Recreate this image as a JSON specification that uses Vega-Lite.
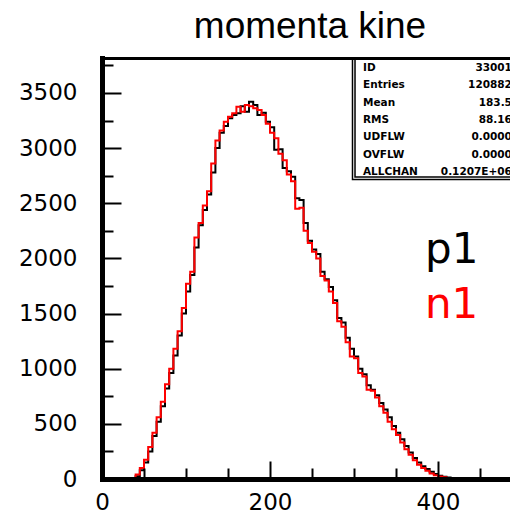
{
  "$schema": "https://vega.github.io/schema/vega-lite/v6.json",
  "width": 408,
  "height": 421,
  "autosize": {"type": "none"},
  "padding": {"left": 102, "top": 58, "right": 0, "bottom": 33},
  "background": "white",
  "config": {"view": {"stroke": null}, "axis": {"grid": false}},
  "title": {"text": "momenta kine", "font": "Liberation Sans", "fontSize": 37, "fontWeight": "normal", "color": "black", "anchor": "middle", "baseline": "alphabetic", "offset": -17, "dx": 4},
  "datasets": {
    "hist": [
      {"m": 0, "p1": 0, "n1": 0}, {"m": 5, "p1": 0, "n1": 0}, {"m": 10, "p1": 0, "n1": 0}, {"m": 15, "p1": 0, "n1": 0},
      {"m": 20, "p1": 0, "n1": 0}, {"m": 25, "p1": 0, "n1": 0}, {"m": 30, "p1": 0, "n1": 0}, {"m": 35, "p1": 3, "n1": 8},
      {"m": 40, "p1": 25, "n1": 40}, {"m": 45, "p1": 80, "n1": 100}, {"m": 50, "p1": 150, "n1": 175}, {"m": 55, "p1": 250, "n1": 290},
      {"m": 60, "p1": 390, "n1": 420}, {"m": 65, "p1": 520, "n1": 560}, {"m": 70, "p1": 660, "n1": 700}, {"m": 75, "p1": 820, "n1": 860},
      {"m": 80, "p1": 960, "n1": 1000}, {"m": 85, "p1": 1120, "n1": 1180}, {"m": 90, "p1": 1300, "n1": 1340}, {"m": 95, "p1": 1500, "n1": 1550},
      {"m": 100, "p1": 1700, "n1": 1770}, {"m": 105, "p1": 1850, "n1": 1880}, {"m": 110, "p1": 2100, "n1": 2190}, {"m": 115, "p1": 2300, "n1": 2320},
      {"m": 120, "p1": 2440, "n1": 2480}, {"m": 125, "p1": 2580, "n1": 2610}, {"m": 130, "p1": 2780, "n1": 2860}, {"m": 135, "p1": 3000, "n1": 3070},
      {"m": 140, "p1": 3140, "n1": 3160}, {"m": 145, "p1": 3200, "n1": 3240}, {"m": 150, "p1": 3270, "n1": 3285}, {"m": 155, "p1": 3300, "n1": 3315},
      {"m": 160, "p1": 3315, "n1": 3375}, {"m": 165, "p1": 3380, "n1": 3330}, {"m": 170, "p1": 3330, "n1": 3391}, {"m": 175, "p1": 3420, "n1": 3380},
      {"m": 180, "p1": 3390, "n1": 3361}, {"m": 185, "p1": 3300, "n1": 3345}, {"m": 190, "p1": 3320, "n1": 3300}, {"m": 195, "p1": 3240, "n1": 3220},
      {"m": 200, "p1": 3190, "n1": 3140}, {"m": 205, "p1": 2985, "n1": 3090}, {"m": 210, "p1": 2990, "n1": 2950}, {"m": 215, "p1": 2820, "n1": 2890},
      {"m": 220, "p1": 2790, "n1": 2760}, {"m": 225, "p1": 2740, "n1": 2700}, {"m": 230, "p1": 2545, "n1": 2450}, {"m": 235, "p1": 2530, "n1": 2460},
      {"m": 240, "p1": 2320, "n1": 2250}, {"m": 245, "p1": 2160, "n1": 2140}, {"m": 250, "p1": 2080, "n1": 2060}, {"m": 255, "p1": 2040, "n1": 2000},
      {"m": 260, "p1": 1880, "n1": 1840}, {"m": 265, "p1": 1810, "n1": 1800}, {"m": 270, "p1": 1740, "n1": 1700}, {"m": 275, "p1": 1620, "n1": 1595},
      {"m": 280, "p1": 1460, "n1": 1430}, {"m": 285, "p1": 1420, "n1": 1380}, {"m": 290, "p1": 1280, "n1": 1240}, {"m": 295, "p1": 1180, "n1": 1110},
      {"m": 300, "p1": 1110, "n1": 1095}, {"m": 305, "p1": 1000, "n1": 960}, {"m": 310, "p1": 950, "n1": 930}, {"m": 315, "p1": 850, "n1": 810},
      {"m": 320, "p1": 810, "n1": 800}, {"m": 325, "p1": 760, "n1": 740}, {"m": 330, "p1": 690, "n1": 660}, {"m": 335, "p1": 630, "n1": 600},
      {"m": 340, "p1": 560, "n1": 520}, {"m": 345, "p1": 480, "n1": 450}, {"m": 350, "p1": 420, "n1": 400}, {"m": 355, "p1": 360, "n1": 330},
      {"m": 360, "p1": 300, "n1": 270}, {"m": 365, "p1": 240, "n1": 220}, {"m": 370, "p1": 190, "n1": 170}, {"m": 375, "p1": 150, "n1": 130},
      {"m": 380, "p1": 115, "n1": 100}, {"m": 385, "p1": 90, "n1": 75}, {"m": 390, "p1": 65, "n1": 50}, {"m": 395, "p1": 45, "n1": 35},
      {"m": 400, "p1": 30, "n1": 22}, {"m": 405, "p1": 20, "n1": 15}, {"m": 410, "p1": 14, "n1": 10}, {"m": 415, "p1": 10, "n1": 7},
      {"m": 420, "p1": 7, "n1": 5}, {"m": 425, "p1": 6, "n1": 5}, {"m": 430, "p1": 4, "n1": 4}, {"m": 435, "p1": 4, "n1": 3},
      {"m": 440, "p1": 3, "n1": 3}, {"m": 445, "p1": 2, "n1": 2}, {"m": 450, "p1": 2, "n1": 2}, {"m": 455, "p1": 1, "n1": 1},
      {"m": 460, "p1": 1, "n1": 1}, {"m": 465, "p1": 1, "n1": 1}, {"m": 470, "p1": 0, "n1": 1}, {"m": 475, "p1": 1, "n1": 0},
      {"m": 480, "p1": 0, "n1": 1}, {"m": 485, "p1": 0, "n1": 0}, {"m": 490, "p1": 0, "n1": 0}, {"m": 495, "p1": 0, "n1": 0},
      {"m": 500, "p1": 0, "n1": 0}
    ],
    "stats": [
      {"names": ["ID", "Entries", "Mean", "RMS", "UDFLW", "OVFLW", "ALLCHAN"],
       "values": ["33001", "120882", "183.5", "88.16", "0.0000", "0.0000", "0.1207E+06"]}
    ]
  },
  "resolve": {"axis": {"x": "independent", "y": "independent"}},
  "layer": [
    {
      "data": {"name": "hist"},
      "mark": {"type": "line", "interpolate": "step-after", "color": "black", "strokeWidth": 2, "clip": true},
      "encoding": {
        "x": {"field": "m", "type": "quantitative", "scale": {"domain": [0, 485.7], "nice": false, "zero": false},
          "axis": {"orient": "bottom", "values": [0, 200, 400], "format": "d", "title": null, "domainWidth": 5, "domainColor": "black", "domainCap": "square",
            "tickColor": "black", "tickWidth": 2, "tickSize": -18, "labelFont": "DejaVu Sans", "labelFontSize": 23, "labelColor": "black",
            "labelPadding": 30, "labelFlush": false, "labelOverlap": false, "zindex": 1}},
        "y": {"field": "p1", "type": "quantitative", "scale": {"domain": [0, 3817], "nice": false, "zero": false},
          "axis": {"orient": "left", "values": [0, 500, 1000, 1500, 2000, 2500, 3000, 3500], "format": "d", "title": null, "domainWidth": 5, "domainColor": "black", "domainCap": "square",
            "tickColor": "black", "tickWidth": 2, "tickSize": -19, "labelFont": "DejaVu Sans", "labelFontSize": 23, "labelColor": "black",
            "labelPadding": 44, "labelFlush": false, "labelOverlap": false, "zindex": 1}}
      }
    },
    {
      "data": {"name": "hist"},
      "mark": {"type": "line", "interpolate": "step-after", "color": "#ff0000", "strokeWidth": 2, "clip": true},
      "encoding": {
        "x": {"field": "m", "type": "quantitative", "scale": {"domain": [0, 485.7], "nice": false, "zero": false},
          "axis": {"orient": "bottom", "values": [50, 100, 150, 250, 300, 350, 450], "title": null, "domain": false, "labels": false,
            "tickColor": "black", "tickWidth": 2, "tickSize": -11, "zindex": 1}},
        "y": {"field": "n1", "type": "quantitative", "scale": {"domain": [0, 3817], "nice": false, "zero": false},
          "axis": {"orient": "left", "values": [250, 750, 1250, 1750, 2250, 2750, 3250, 3750], "title": null, "domain": false, "labels": false,
            "tickColor": "black", "tickWidth": 2, "tickSize": -11, "zindex": 1}}
      }
    },
    {
      "data": {"name": "stats"},
      "mark": {"type": "rect", "fill": "white", "stroke": "black", "strokeWidth": 1.5, "clip": true},
      "encoding": {
        "x": {"datum": 298.2, "type": "quantitative", "scale": {"domain": [0, 485.7], "nice": false, "zero": false},
          "axis": {"orient": "top", "title": null, "domain": true, "domainWidth": 3, "domainColor": "black", "ticks": false, "labels": false, "zindex": 1}},
        "x2": {"datum": 500},
        "y": {"datum": 2715, "type": "quantitative", "scale": {"domain": [0, 3817], "nice": false, "zero": false}, "axis": null},
        "y2": {"datum": 3817}
      }
    },
    {
      "data": {"name": "stats"},
      "mark": {"type": "rect", "fill": "white", "stroke": "black", "strokeWidth": 1.5, "clip": true},
      "encoding": {
        "x": {"datum": 301.2, "type": "quantitative", "scale": {"domain": [0, 485.7], "nice": false, "zero": false}, "axis": null},
        "x2": {"datum": 500},
        "y": {"datum": 2738, "type": "quantitative", "scale": {"domain": [0, 3817], "nice": false, "zero": false}, "axis": null},
        "y2": {"datum": 3817}
      }
    },
    {
      "data": {"name": "stats"},
      "mark": {"type": "text", "align": "left", "baseline": "alphabetic", "font": "DejaVu Sans", "fontWeight": "bold", "fontSize": 10.5, "lineHeight": 17.3, "color": "black"},
      "encoding": {
        "x": {"datum": 310.7, "type": "quantitative", "scale": {"domain": [0, 485.7], "nice": false, "zero": false}, "axis": null},
        "y": {"datum": 3699, "type": "quantitative", "scale": {"domain": [0, 3817], "nice": false, "zero": false}, "axis": null},
        "text": {"field": "names"}
      }
    },
    {
      "data": {"name": "stats"},
      "mark": {"type": "text", "align": "right", "baseline": "alphabetic", "font": "DejaVu Sans", "fontWeight": "bold", "fontSize": 10.5, "lineHeight": 17.3, "color": "black"},
      "encoding": {
        "x": {"datum": 488, "type": "quantitative", "scale": {"domain": [0, 485.7], "nice": false, "zero": false}, "axis": null},
        "y": {"datum": 3699, "type": "quantitative", "scale": {"domain": [0, 3817], "nice": false, "zero": false}, "axis": null},
        "text": {"field": "values"}
      }
    },
    {
      "data": {"values": [{"label": "p1"}]},
      "mark": {"type": "text", "align": "left", "baseline": "alphabetic", "font": "DejaVu Sans", "fontSize": 42, "color": "black"},
      "encoding": {
        "x": {"datum": 384.5, "type": "quantitative", "scale": {"domain": [0, 485.7], "nice": false, "zero": false}, "axis": null},
        "y": {"datum": 1958, "type": "quantitative", "scale": {"domain": [0, 3817], "nice": false, "zero": false}, "axis": null},
        "text": {"field": "label"}
      }
    },
    {
      "data": {"values": [{"label": "n1"}]},
      "mark": {"type": "text", "align": "left", "baseline": "alphabetic", "font": "DejaVu Sans", "fontSize": 42, "color": "#ff0000"},
      "encoding": {
        "x": {"datum": 384.5, "type": "quantitative", "scale": {"domain": [0, 485.7], "nice": false, "zero": false}, "axis": null},
        "y": {"datum": 1460, "type": "quantitative", "scale": {"domain": [0, 3817], "nice": false, "zero": false}, "axis": null},
        "text": {"field": "label"}
      }
    }
  ]
}
